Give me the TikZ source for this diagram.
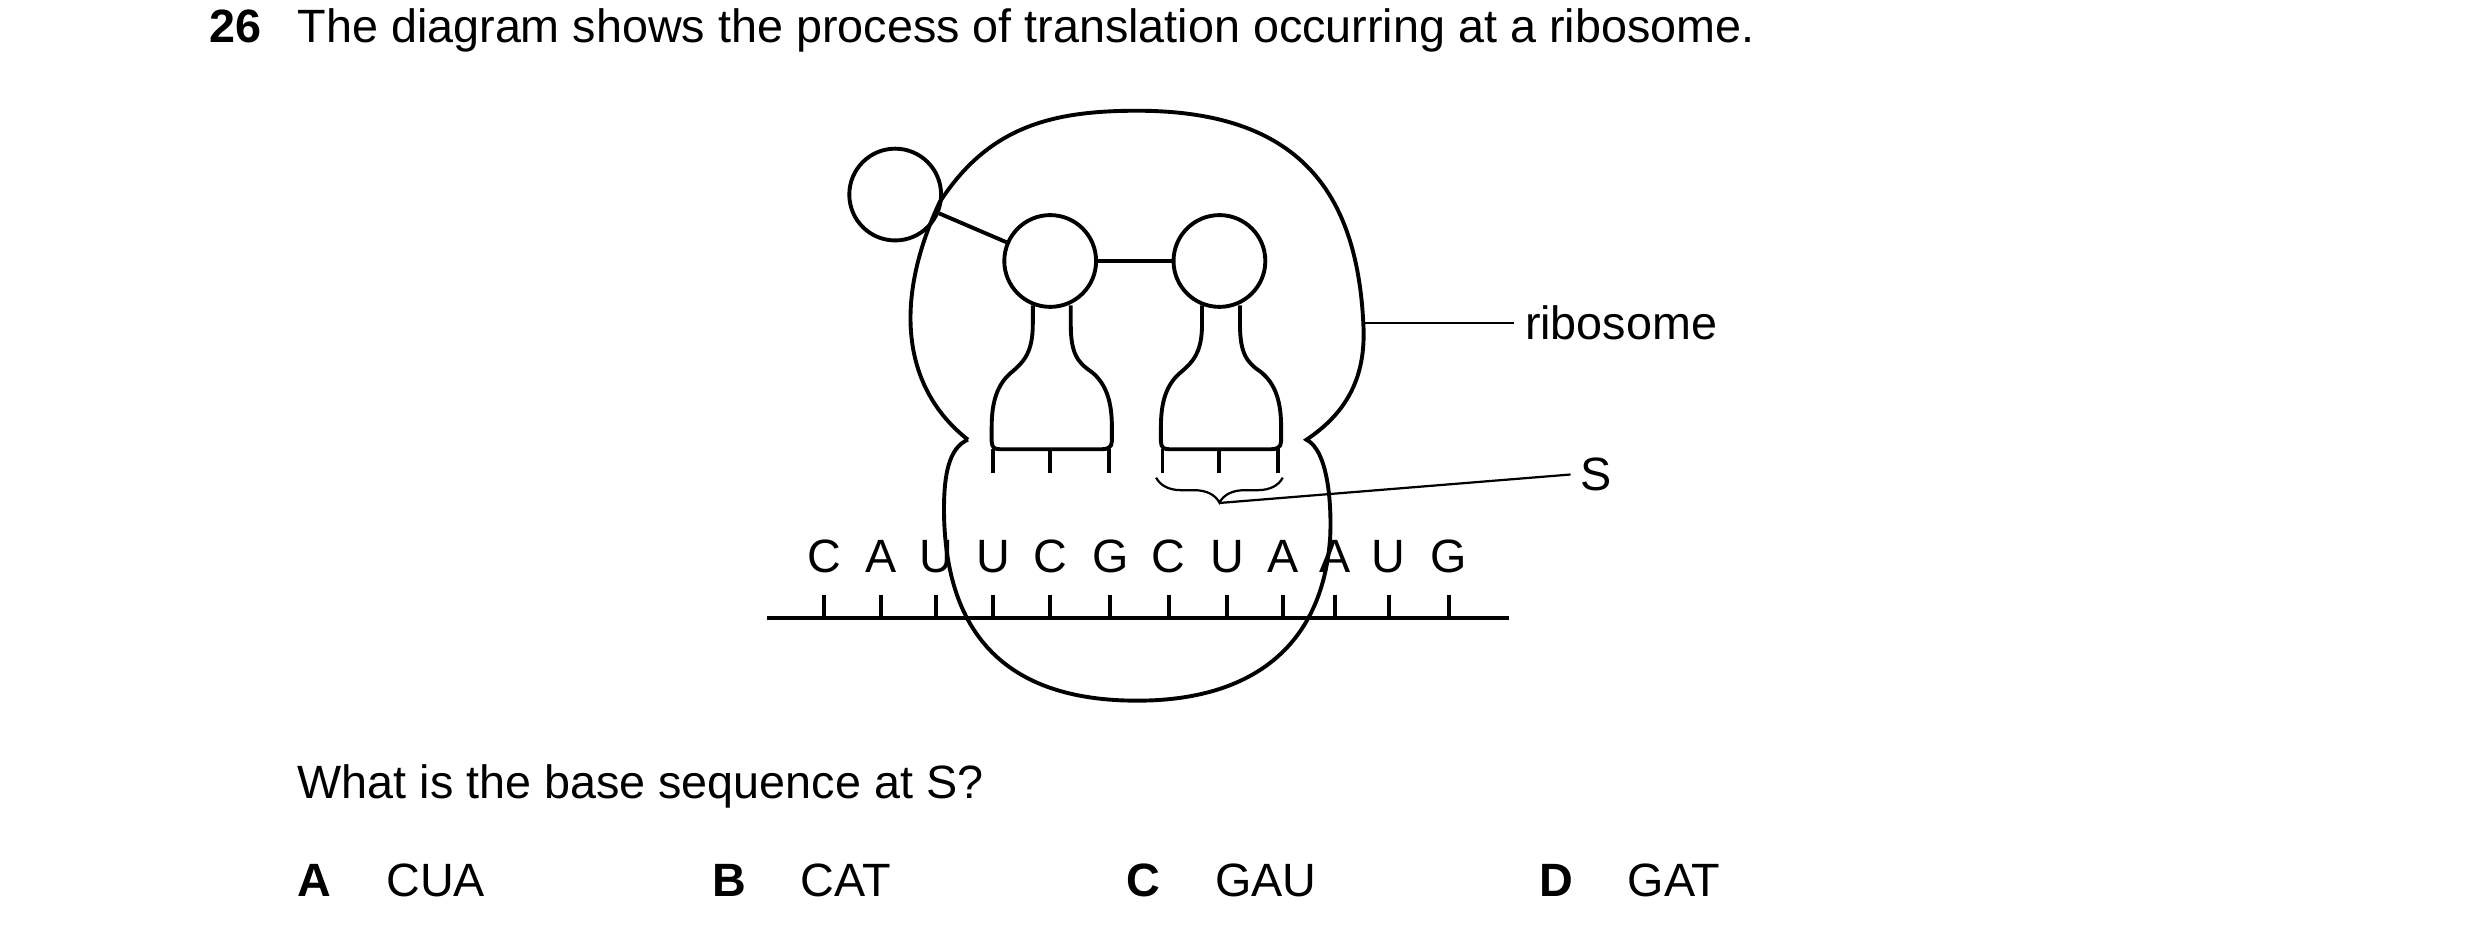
\documentclass[tikz,border=0pt]{standalone}
\usepackage{fontspec}
\setmainfont{Liberation Sans}
\usetikzlibrary{decorations.pathreplacing}
\begin{document}
\begin{tikzpicture}[x=0.01cm, y=-0.01cm, line width=0.7pt, every node/.style={font=\fontsize{8.4}{10}\selectfont, inner sep=0pt},
ball/.style={circle,draw,line width=0.7pt,minimum size=0.58cm},
leader/.style={line width=0.4pt}]
\useasboundingbox (0,0) rectangle (1568,593);
%question
\node[anchor=base west,font=\fontsize{8.4}{10}\selectfont\bfseries] (num) at (131,27) {26};
\node[anchor=base west] (q) at (187,27) {The diagram shows the process of translation occurring at a ribosome.};
\node[anchor=base west] (ask) at (187,505) {What is the base sequence at S?};
\foreach \l/\t/\x in {A/CUA/187,B/CAT/449,C/GAU/711,D/GAT/972}{
  \node[anchor=base west,font=\fontsize{8.4}{10}\selectfont\bfseries] (opt\l) at (\x,567) {\l};
  \node[anchor=base west] (ans\l) at (\x+56,567) {\t};
}
%ribosome
\draw (612,278) .. controls (570,245) and (565,190) .. (594,128) .. controls (625,80) and (665,70) .. (719,70)
  .. controls (820,70) and (858,120) .. (862,205) .. controls (864,240) and (850,262) .. (826,278)
  .. controls (840,285) and (842,320) .. (841,340) .. controls (836,410) and (790,443) .. (719,443)
  .. controls (640,443) and (600,405) .. (597,330) .. controls (596,300) and (600,283) .. (612,278);
%tRNA
\node[ball] (aa) at (566,123) {};
\foreach \n/\cx in {1/664,2/771}{
  \node[ball] (t\n) at (\cx,165) {};
  \begin{scope}[shift={(\cx,165)}]
  \draw (-11,28) -- (-11,40) .. controls (-11,58) and (-17,64) .. (-24,70) .. controls (-34,78) and (-37,90) .. (-37,105)
   -- (-37,114) .. controls (-37,118) and (-35,119) .. (-32,119) -- (33,119) .. controls (36,119) and (39,118) .. (39,114)
   -- (39,105) .. controls (39,90) and (36,78) .. (26,70) .. controls (17,64) and (13,58) .. (13,40) -- (13,28);
  \foreach \dx in {-36,0,37} \draw (\dx,119) -- (\dx,134);
  \end{scope}
}
\draw (aa) -- (t1);
\draw (t1) -- (t2);
%mRNA
\draw (485,391) -- (954,391);
\foreach \b/\x [count=\i] in {C/521,A/557,U/592,U/628,C/664,G/702,C/739,U/776,A/811,A/844,U/878,G/916}{
  \node[anchor=base] (b\i) at (\x,362) {\b};
  \draw (\x,376) -- (\x,391);
}
%labels
\coordinate (ribR) at (862,204);
\node[anchor=west] (rib) at (963,204) {ribosome};
\draw[leader] (ribR) -- ([xshift=-0.06cm]rib.west);
\draw[leader,decorate,decoration={brace,amplitude=4.5pt,aspect=0.5,mirror}] (731,302) -- (811,302);
\coordinate (tip) at (771,318);
\node[anchor=west] (S) at (998,300) {S};
\draw[leader] (tip) -- ([xshift=-0.05cm]S.west);
\end{tikzpicture}
\end{document}
